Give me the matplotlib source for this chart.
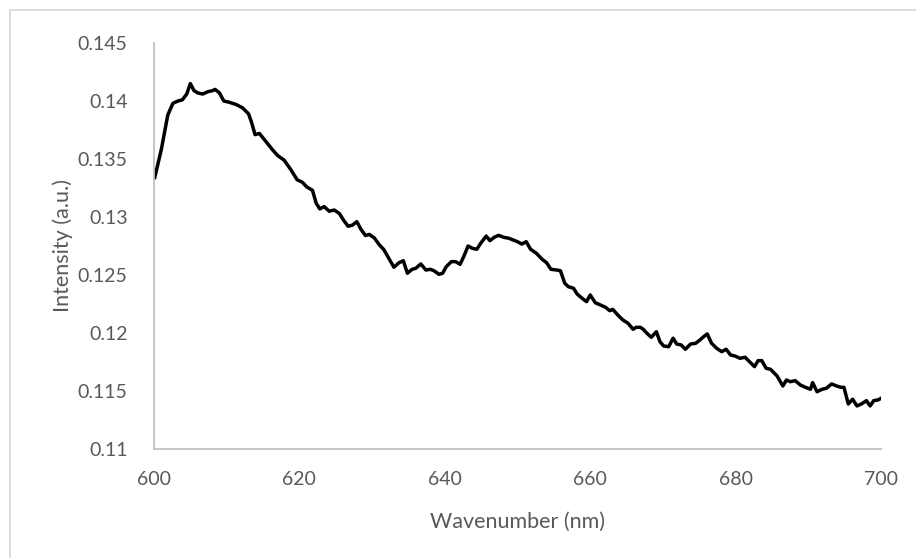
import matplotlib
matplotlib.use("Agg")
import matplotlib.pyplot as plt
from matplotlib.lines import Line2D

# Emission spectrum, wavelength (nm) vs intensity (a.u.)
wavelength = [
    600.1, 601.0, 601.9, 602.6, 603.3, 603.9, 604.5, 605.0, 605.5, 606.0,
    606.7, 607.4, 608.1, 608.4, 609.0, 609.6, 610.3, 611.3, 612.2, 613.0,
    613.4, 613.9, 614.5, 615.4, 616.3, 617.0, 617.9, 618.8, 619.7, 620.4,
    621.0, 621.8, 622.3, 622.8, 623.4, 624.1, 624.8, 625.5, 626.1, 626.7,
    627.3, 627.9, 628.5, 629.1, 629.6, 630.3, 631.0, 631.6, 632.3, 633.0,
    633.7, 634.3, 634.85, 635.5, 636.0, 636.7, 637.4, 638.0, 638.5, 639.2,
    639.7, 640.2, 640.9, 641.5, 642.1, 642.6, 643.2, 643.8, 644.4, 645.0,
    645.7, 646.2, 646.8, 647.4, 648.1, 648.8, 649.4, 650.0, 650.6, 651.2,
    651.8, 652.6, 653.4, 654.0, 654.6, 655.4, 655.9, 656.5, 657.0, 657.7,
    658.2, 658.9, 659.5, 660.0, 660.7, 661.4, 662.1, 662.7, 663.1, 663.8,
    664.5, 665.2, 665.9, 666.3, 666.9, 667.3, 667.8, 668.4, 669.1, 669.6,
    670.1, 670.8, 671.4, 671.9, 672.5, 673.1, 673.8, 674.5, 675.1, 675.6,
    676.1, 676.7, 677.4, 678.1, 678.7, 679.3, 679.9, 680.6, 681.3, 681.9,
    682.6, 683.1, 683.6, 684.2, 684.8, 685.7, 686.5, 687.0, 687.5, 688.2,
    688.9, 689.6, 690.3, 690.6, 691.2, 691.9, 692.5, 693.2, 693.9, 694.5,
    694.9, 695.5, 696.1, 696.7, 697.3, 698.0, 698.5, 699.0, 699.6, 700.0,
]
intensity = [
    0.1334, 0.1358, 0.1388, 0.1398, 0.1400, 0.1401, 0.1406, 0.1415, 0.1409, 0.1407,
    0.1406, 0.1408, 0.1409, 0.1410, 0.1407, 0.1400, 0.1399, 0.1397, 0.1394, 0.1389,
    0.1382, 0.1371, 0.1372, 0.1365, 0.1358, 0.1353, 0.1349, 0.1341, 0.1332, 0.1330,
    0.1326, 0.1323, 0.1312, 0.1307, 0.1309, 0.1305, 0.1306, 0.1303, 0.1297, 0.1292,
    0.1293, 0.1296, 0.1289, 0.1284, 0.1285, 0.1282, 0.1276, 0.1272, 0.12644, 0.12567,
    0.12606, 0.12623, 0.12515, 0.12549, 0.12558, 0.12595, 0.12543, 0.12549, 0.12537, 0.12506,
    0.12515, 0.12572, 0.12615, 0.12615, 0.12592, 0.12658, 0.12750, 0.12730, 0.12722, 0.12779,
    0.12836, 0.12796, 0.12825, 0.12842, 0.12825, 0.12817, 0.12802, 0.12787, 0.12767, 0.12787,
    0.12722, 0.12687, 0.12635, 0.12606, 0.12549, 0.12543, 0.12537, 0.12429, 0.12399, 0.12386,
    0.12336, 0.12299, 0.12270, 0.12328, 0.12261, 0.12242, 0.12222, 0.12192, 0.12204, 0.12155,
    0.12112, 0.12084, 0.12032, 0.12049, 0.12049, 0.12032, 0.11998, 0.11963, 0.12011, 0.11925,
    0.11888, 0.11882, 0.11955, 0.11905, 0.11897, 0.11860, 0.11905, 0.11911, 0.11940, 0.11968,
    0.11992, 0.11911, 0.11868, 0.11839, 0.11860, 0.11811, 0.11802, 0.11782, 0.11791, 0.11753,
    0.11710, 0.11762, 0.11762, 0.11696, 0.11687, 0.11630, 0.11543, 0.11595, 0.11580, 0.11589,
    0.11552, 0.11532, 0.11515, 0.11572, 0.11494, 0.11515, 0.11524, 0.11561, 0.11543, 0.11532,
    0.11532, 0.11388, 0.11429, 0.11371, 0.11388, 0.11417, 0.11371, 0.11417, 0.11423, 0.11437,
]

x_ticks = [600, 620, 640, 660, 680, 700]
y_ticks = [0.11, 0.115, 0.12, 0.125, 0.13, 0.135, 0.14, 0.145]
y_tick_labels = ["0.11", "0.115", "0.12", "0.125", "0.13", "0.135", "0.14", "0.145"]

plt.rcParams["font.family"] = ["Lato", "DejaVu Sans"]
text_color = "#595959"
axis_color = "#bfbfbf"

W, H = 916, 558
fig = plt.figure(figsize=(W / 100, H / 100), dpi=100)
ax = fig.add_axes([154 / W, 1 - 449 / H, (881 - 154) / W, (449 - 43) / H])

ax.plot(wavelength, intensity, color="black", linewidth=2.5, solid_joinstyle="round")

ax.set_xlim(600, 700)
ax.set_ylim(0.11, 0.145)
ax.set_xticks(x_ticks)
ax.set_yticks(y_ticks)
ax.set_yticklabels(y_tick_labels)
ax.tick_params(axis="both", length=0, labelsize=14, colors=text_color)
ax.tick_params(axis="y", pad=19)
ax.tick_params(axis="x", pad=16)

for side in ("top", "right"):
    ax.spines[side].set_visible(False)
for side in ("left", "bottom"):
    ax.spines[side].set_color(axis_color)
    ax.spines[side].set_linewidth(1.3)

ax.set_xlabel("Wavenumber (nm)", fontsize=15.5, color=text_color, labelpad=17)
ax.set_ylabel("Intensity (a.u.)", fontsize=15.5, color=text_color, labelpad=3)

# chart frame
fig.add_artist(Line2D([10 / W, 10 / W], [0, 1 - 10 / H], transform=fig.transFigure,
                      color="#d9d9d9", linewidth=1.3))
fig.add_artist(Line2D([10 / W, 1], [1 - 10 / H, 1 - 10 / H], transform=fig.transFigure,
                      color="#d9d9d9", linewidth=1.3))

fig.savefig("out.png", dpi=100, facecolor="white")
